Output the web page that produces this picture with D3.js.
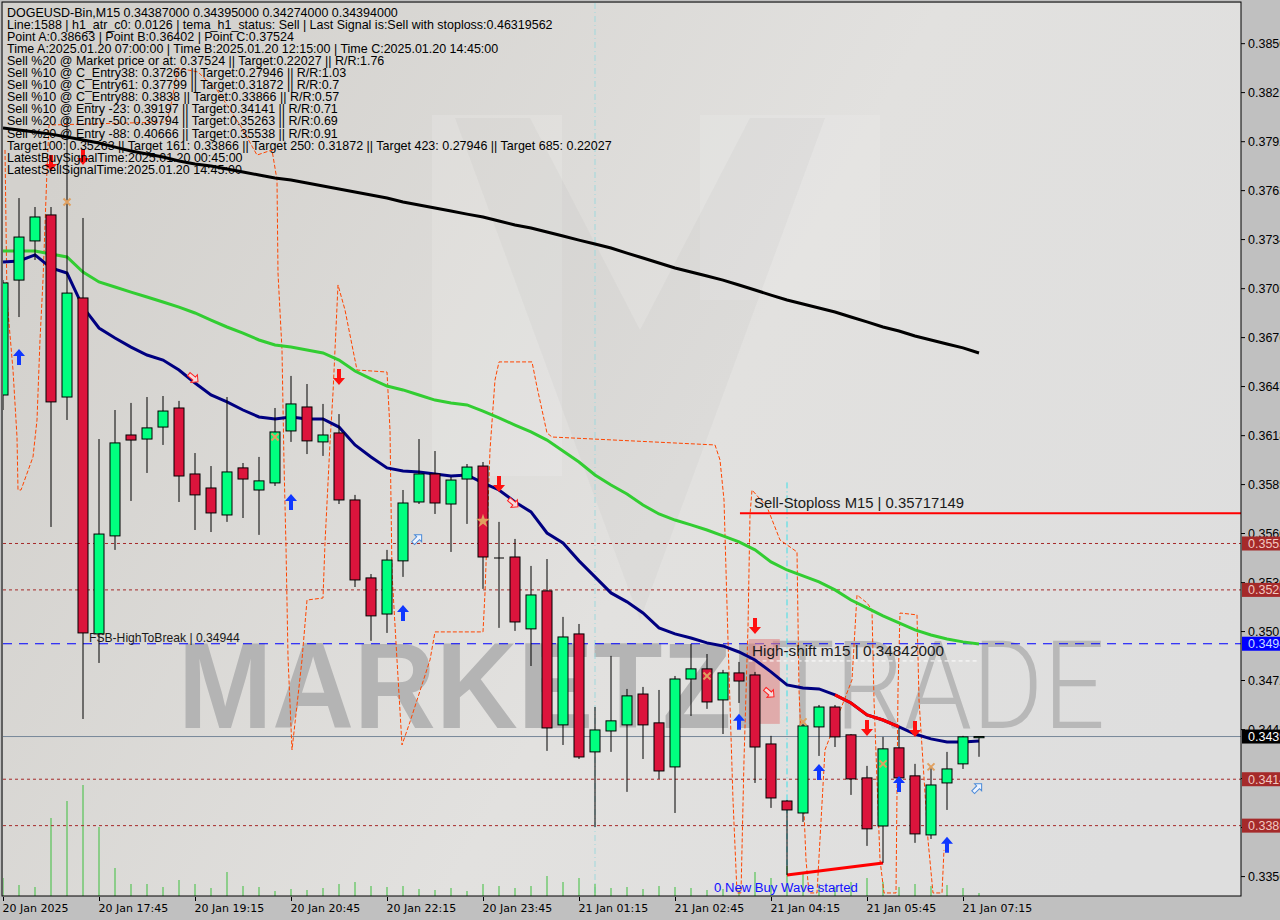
<!DOCTYPE html>
<html><head><meta charset="utf-8">
<script src="https://cdn.jsdelivr.net/npm/d3@7"></script>
<style>body{margin:0;background:#c0c0c0;overflow:hidden}svg{display:block}</style>
</head><body><svg id="c" width="1280" height="920"></svg>
<script>
// ---------- DATA ----------
const opens=[0.36418,0.37099,0.37331,0.37485,0.36406,0.36993,0.35002,0.35583,0.36181,0.36157,
0.36228,0.36341,0.35950,0.35867,0.35707,0.35986,0.35855,0.35897,0.36205,0.36347,
0.36140,0.36193,0.35796,0.35334,0.35120,0.35435,0.35784,0.35950,0.35772,0.35920,
0.35997,0.35452,0.35458,0.35032,0.35257,0.34463,0.35002,0.34303,0.34427,0.34463,
0.34646,0.34475,0.34214,0.34735,0.34795,0.34611,0.34771,0.34759,0.34350,0.34012,
0.33941,0.34451,0.34569,0.34404,0.34149,0.33864,0.34327,0.34161,0.33811,0.34119,
0.34232,0.34387];
const highs=[0.37099,0.37585,0.37532,0.37532,0.38065,0.37467,0.36157,0.36329,0.36371,0.36406,
0.36412,0.36383,0.36074,0.35997,0.36406,0.36015,0.36051,0.36341,0.36531,0.36483,
0.36365,0.36305,0.35826,0.35357,0.35500,0.35855,0.36157,0.36086,0.35932,0.36009,
0.36021,0.35666,0.35565,0.35405,0.35446,0.35103,0.35061,0.34569,0.34872,0.34676,
0.34688,0.34670,0.34753,0.34943,0.34883,0.34789,0.34836,0.34777,0.34398,0.34018,
0.34469,0.34581,0.34581,0.34409,0.34220,0.34392,0.34445,0.34232,0.34214,0.34303,
0.34398,0.34395];
const lows=[0.36329,0.36880,0.37218,0.35636,0.36270,0.34498,0.34830,0.35500,0.35790,0.35956,
0.36122,0.35784,0.35618,0.35606,0.35666,0.35689,0.35589,0.35879,0.36140,0.36068,
0.36057,0.35772,0.35280,0.34961,0.35008,0.35340,0.35772,0.35713,0.35488,0.35654,
0.35269,0.35038,0.35020,0.34812,0.34309,0.34344,0.34261,0.33858,0.34303,0.34066,
0.34261,0.34143,0.33941,0.34516,0.34558,0.34409,0.34593,0.34119,0.33971,0.33574,
0.33888,0.34279,0.34332,0.34048,0.33746,0.33645,0.34125,0.33764,0.33787,0.33959,
0.34202,0.34274];
const closes=[0.37082,0.37354,0.37473,0.36377,0.37022,0.35008,0.35594,0.36134,0.36151,0.36223,
0.36323,0.35938,0.35826,0.35719,0.35962,0.35920,0.35909,0.36199,0.36365,0.36146,
0.36181,0.35796,0.35322,0.35109,0.35440,0.35778,0.35950,0.35778,0.35914,0.35991,
0.35458,0.35452,0.35073,0.35233,0.34445,0.34984,0.34273,0.34433,0.34487,0.34635,
0.34463,0.34190,0.34735,0.34795,0.34599,0.34771,0.34723,0.34332,0.34030,0.33959,
0.34457,0.34569,0.34392,0.34143,0.33847,0.34321,0.34149,0.33817,0.34107,0.34202,
0.34392,0.34394];
const volumes=[180,110,90,780,950,1110,690,280,120,120,90,160,120,80,240,100,90,50,70,60,
80,120,140,100,90,100,70,60,80,50,120,100,80,100,200,140,180,120,80,90,
70,100,90,80,60,70,60,240,180,300,220,120,90,140,180,140,90,120,100,110,80,30];
const maFast=[0.37206,0.37212,0.37248,0.37171,0.37141,0.36939,0.36815,0.36756,0.36702,0.36655,
0.36625,0.36566,0.36489,0.36418,0.36377,0.36329,0.36288,0.36276,0.36288,0.36276,
0.36276,0.36228,0.36122,0.36051,0.35986,0.35968,0.35962,0.35950,0.35938,0.35944,
0.35897,0.35855,0.35784,0.35725,0.35600,0.35541,0.35435,0.35340,0.35245,0.35192,
0.35126,0.35038,0.35002,0.34978,0.34949,0.34931,0.34895,0.34848,0.34777,0.34700,
0.34682,0.34676,0.34641,0.34593,0.34522,0.34492,0.34451,0.34409,0.34380,0.34362,
0.34362,0.34368];
const maMid=[0.37271,0.37271,0.37271,0.37253,0.37236,0.37147,0.37088,0.37058,0.37028,0.36999,
0.36969,0.36939,0.36904,0.36862,0.36821,0.36785,0.36744,0.36714,0.36702,0.36685,
0.36667,0.36625,0.36560,0.36513,0.36471,0.36448,0.36418,0.36388,0.36371,0.36359,
0.36323,0.36282,0.36240,0.36199,0.36151,0.36086,0.36021,0.35944,0.35885,0.35831,
0.35766,0.35713,0.35677,0.35648,0.35618,0.35583,0.35547,0.35500,0.35429,0.35381,
0.35346,0.35310,0.35263,0.35203,0.35156,0.35109,0.35067,0.35026,0.34996,0.34972,
0.34955,0.34943];
const maSlow=[0.38000,0.37988,0.37976,0.37964,0.37947,0.37929,0.37911,0.37887,0.37864,0.37846,
0.37828,0.37805,0.37787,0.37775,0.37757,0.37739,0.37722,0.37704,0.37692,0.37674,
0.37656,0.37639,0.37621,0.37603,0.37585,0.37562,0.37544,0.37526,0.37508,0.37490,
0.37473,0.37449,0.37425,0.37408,0.37384,0.37360,0.37336,0.37313,0.37289,0.37259,
0.37230,0.37200,0.37171,0.37147,0.37123,0.37099,0.37070,0.37040,0.37010,0.36981,
0.36957,0.36934,0.36910,0.36880,0.36851,0.36821,0.36797,0.36768,0.36744,0.36720,
0.36697,0.36667];
// orange envelope zigzag: [bar index, price]
const envelope=[[0.125,0.37870],[0.25,0.36981],[0.625,0.36566],[0.875,0.36169],[0.9375,0.35855],[1.125,0.35855],
[1.875,0.36051],[2.125,0.36270],[2.3125,0.36744],[2.5,0.37099],[2.75,0.37751],[2.875,0.38018],[10.25,0.38036],
[10.5625,0.38166],[10.9375,0.38356],[12.1875,0.38332],[13.375,0.38225],[14.8125,0.38018],[15.875,0.37840],
[16.8125,0.37870],[17.125,0.37692],[17.1875,0.37141],[17.4375,0.36685],[17.5625,0.36015],[17.6875,0.35517],
[17.8125,0.34866],[18.0625,0.34315],[18.375,0.34581],[18.6875,0.34848],[19.0,0.35203],[20.0,0.35215],
[20.125,0.35541],[20.4375,0.36134],[20.625,0.36430],[20.9375,0.37070],[21.375,0.36922],[21.8125,0.36714],
[22.125,0.36566],[24.0,0.36554],[24.1875,0.36211],[24.3125,0.35363],[24.625,0.34848],[24.9375,0.34344],
[25.4375,0.34481],[26.6875,0.34848],[27.0,0.35014],[30.0,0.35014],[30.125,0.35245],[30.4375,0.36092],
[30.75,0.36507],[31.0,0.36614],[33.0625,0.36614],[33.375,0.36466],[34.0,0.36193],[34.3125,0.36169],
[44.5,0.36122],[44.8125,0.36033],[45.0625,0.35796],[45.3125,0.34966],[45.625,0.34018],[45.875,0.33467],
[46.125,0.33467],[46.3125,0.34255],[46.5625,0.35043],[46.6875,0.35707],[46.8125,0.35855],[47.75,0.35755],
[48.5625,0.35559],[49.625,0.35488],[49.75,0.34670],[50.1875,0.33663],[50.375,0.33467],[50.875,0.33467],
[51.375,0.34315],[53.0625,0.34730],[53.375,0.35233],[54.0,0.35186],[54.3125,0.35144],[54.4375,0.34611],
[54.8125,0.33663],[55.0625,0.33467],[55.8125,0.33467],[55.9375,0.34670],[56.0625,0.35126],[57.125,0.35115],
[57.25,0.34611],[57.8125,0.33781],[58.125,0.33467],[58.6875,0.33467],[58.8125,0.33722]];
const buyArrows=[[1,0.36643],[18,0.35784],[25,0.35126],[46,0.34481],[51,0.34184],[56,0.34113],[59,0.33752]];
const sellArrows=[[3,0.37793],[5,0.37828],[21,0.36525],[31,0.35891],[47,0.35049],[54,0.34445],[57,0.34439]];
const sellHollow=[[11.9,0.36519],[31.9,0.35778],[47.9,0.34653]];
const buyHollow=[[25.9,0.35565],[60.9,0.34089]];
const crossMarks=[[4,0.37562],[17,0.36169],[44,0.34753],[50,0.34481],[55,0.34232],[58,0.34214]];
const starMarks=[[30,0.35671]];
const timeTickIdx=[0,6,12,18,24,30,36,42,48,54,60];
const timeLabels=["20 Jan 2025","20 Jan 17:45","20 Jan 19:15","20 Jan 20:45","20 Jan 22:15","20 Jan 23:45",
"21 Jan 01:15","21 Jan 02:45","21 Jan 04:15","21 Jan 05:45","21 Jan 07:15"];
const priceTicks=[0.38503,0.38213,0.37922,0.37632,0.37342,0.37051,0.36761,0.36471,0.36180,0.35890,
0.35600,0.35309,0.35019,0.34729,0.34438,0.34148,0.33858,0.33567];
const targetLevels=[0.35538,0.35263,0.34141,0.33866];
const fsbHigh=0.34944, stopLoss=0.35717149, highShift=0.34842, lastPrice=0.34394;
const infoLines=["DOGEUSD-Bin,M15  0.34387000 0.34395000 0.34274000 0.34394000",
"Line:1588 | h1_atr_c0: 0.0126 | tema_h1_status: Sell | Last Signal is:Sell with stoploss:0.46319562",
"Point A:0.38663 | Point B:0.36402 | Point C:0.37524",
"Time A:2025.01.20 07:00:00 | Time B:2025.01.20 12:15:00 | Time C:2025.01.20 14:45:00",
"Sell %20 @ Market price or at: 0.37524 || Target:0.22027 || R/R:1.76",
"Sell %10 @ C_Entry38: 0.37266 || Target:0.27946 || R/R:1.03",
"Sell %10 @ C_Entry61: 0.37799 || Target:0.31872 || R/R:0.7",
"Sell %10 @ C_Entry88: 0.3838 || Target:0.33866 || R/R:0.57",
"Sell %10 @ Entry -23: 0.39197 || Target:0.34141 || R/R:0.71",
"Sell %20 @ Entry -50: 0.39794 || Target:0.35263 || R/R:0.69",
"Sell %20 @ Entry -88: 0.40666 || Target:0.35538 || R/R:0.91",
"Target100: 0.35263 || Target 161: 0.33866 || Target 250: 0.31872 || Target 423: 0.27946 || Target 685: 0.22027",
"LatestBuySignalTime:2025.01.20 00:45:00",
"LatestSellSignalTime:2025.01.20 14:45:00"];

// ---------- LAYOUT ----------
const L=3,R=1241,T=3,B=896;
const svg=d3.select("#c");
const x=d3.scaleLinear().domain([0,61]).range([3,979]);
const y=d3.scaleLinear().domain([0.33449,0.38741]).range([B,T]);
const vol=d3.scaleLinear().domain([0,1000]).range([B,B-100]);

const defs=svg.append("defs");
const g1=defs.append("linearGradient").attr("id","bg").attr("x1","0").attr("y1","0.3").attr("x2","1").attr("y2","0.7");
g1.append("stop").attr("offset","0").attr("stop-color","#d3d1cd");
g1.append("stop").attr("offset","0.55").attr("stop-color","#e2e1df");
g1.append("stop").attr("offset","1").attr("stop-color","#dedede");
defs.append("clipPath").attr("id","clip").append("rect").attr("x",L).attr("y",T).attr("width",R-L).attr("height",B-T);

svg.append("rect").attr("width",1280).attr("height",920).attr("fill","#c0c0c0");
svg.append("rect").attr("x",L).attr("y",T).attr("width",R-L).attr("height",B-T).attr("fill","url(#bg)");

const plot=svg.append("g").attr("clip-path","url(#clip)");

// watermark
const wm=plot.append("g");
wm.append("polygon").attr("points","432,115 562,115 562,476 432,476").attr("fill","#ffffff").attr("opacity",0.14);
wm.append("polygon").attr("points","700,115 880,115 880,300 700,300").attr("fill","#ffffff").attr("opacity",0.12);
wm.append("polygon").attr("points","455,118 530,118 640,330 750,118 825,118 640,620").attr("fill","#9a9a9a").attr("opacity",0.08);
wm.append("text").attr("x",178).attr("y",728).attr("font-family","Liberation Sans, Arial").attr("font-weight","bold")
  .attr("font-size",122).attr("fill","#b4b4b4").attr("textLength",585).attr("lengthAdjust","spacingAndGlyphs").text("MARKETZI");
wm.append("text").attr("x",770).attr("y",728).attr("font-family","Roboto, Liberation Sans").attr("font-weight","300")
  .attr("font-size",122).attr("fill","#b8b8b8").attr("textLength",335).attr("lengthAdjust","spacingAndGlyphs").text("TRADE");

// vertical separators
plot.append("line").attr("x1",x(37)).attr("x2",x(37)).attr("y1",T).attr("y2",B)
  .attr("stroke","#9fd8dc").attr("stroke-width",1).attr("stroke-dasharray","6,3,1,3");
plot.append("line").attr("x1",x(49)).attr("x2",x(49)).attr("y1",y(0.35900)).attr("y2",y(0.33574))
  .attr("stroke","#3fe0e8").attr("stroke-width",1).attr("stroke-dasharray","6,3,1,3");

// volume
plot.selectAll(".vol").data(volumes).enter().append("line")
  .attr("x1",(d,i)=>x(i)).attr("x2",(d,i)=>x(i)).attr("y1",B).attr("y2",d=>vol(d))
  .attr("stroke","#3cbf3c").attr("stroke-width",1);

// levels
targetLevels.forEach(p=>plot.append("line").attr("x1",L).attr("x2",R).attr("y1",y(p)).attr("y2",y(p))
  .attr("stroke","#a52a2a").attr("stroke-dasharray","3,3"));
plot.append("line").attr("x1",L).attr("x2",R).attr("y1",y(lastPrice)).attr("y2",y(lastPrice)).attr("stroke","#778899");
plot.append("line").attr("x1",L).attr("x2",R).attr("y1",y(fsbHigh)).attr("y2",y(fsbHigh))
  .attr("stroke","#0000ff").attr("stroke-dasharray","9,7").attr("stroke-width",1.2);
plot.append("line").attr("x1",x(46.06)).attr("x2",R).attr("y1",y(stopLoss)).attr("y2",y(stopLoss))
  .attr("stroke","#ff0000").attr("stroke-width",2);

// pink zone
plot.append("rect").attr("x",x(46.6)).attr("width",x(48.55)-x(46.6)).attr("y",y(0.34972)).attr("height",y(0.34469)-y(0.34972))
  .attr("fill","#e08080").attr("opacity",0.55);
plot.append("line").attr("x1",x(46.6)).attr("x2",x(60.9)).attr("y1",y(highShift)).attr("y2",y(highShift))
  .attr("stroke","#ffffff").attr("stroke-dasharray","4,3");

// envelope
plot.append("path").datum(envelope).attr("d",d3.line().x(d=>x(d[0])).y(d=>y(d[1])))
  .attr("fill","none").attr("stroke","#ff4500").attr("stroke-width",1).attr("stroke-dasharray","4,2");

// MAs
const ln=d3.line().x((d,i)=>x(i)).y(d=>y(d));
plot.append("path").datum(maSlow).attr("d",ln).attr("fill","none").attr("stroke","#000").attr("stroke-width",3);
plot.append("path").datum(maMid).attr("d",ln).attr("fill","none").attr("stroke","#32cd32").attr("stroke-width",3);
plot.append("path").datum(maFast).attr("d",ln).attr("fill","none").attr("stroke","#000080").attr("stroke-width",3);
const seg=maFast.map((d,i)=>[i,d]).filter(d=>d[0]>=52&&d[0]<=56);
plot.append("path").datum(seg).attr("d",d3.line().x(d=>x(d[0])).y(d=>y(d[1]))).attr("fill","none").attr("stroke","#ff0000").attr("stroke-width",3);
plot.append("line").attr("x1",x(49)).attr("y1",y(lows[49])).attr("x2",x(55)).attr("y2",y(lows[55]))
  .attr("stroke","#ff0000").attr("stroke-width",3);

// candles
const cg=plot.append("g");
opens.forEach((o,i)=>{
  const c=closes[i],cx=x(i);
  cg.append("line").attr("x1",cx).attr("x2",cx).attr("y1",y(highs[i])).attr("y2",y(lows[i])).attr("stroke","#000");
  if(o===c){cg.append("line").attr("x1",cx-5).attr("x2",cx+5).attr("y1",y(o)).attr("y2",y(o)).attr("stroke","#000");return;}
  const t=y(Math.max(o,c)),b=y(Math.min(o,c));
  cg.append("rect").attr("x",cx-5).attr("y",t).attr("width",10).attr("height",Math.max(1,b-t))
    .attr("fill",c>o?"#00ff7f":"#dc143c").attr("stroke","#000").attr("stroke-width",1);
});

// markers
const mk=plot.append("g");
const upPath="M0,-8 L6,-1 L2,-1 L2,8 L-2,8 L-2,-1 L-6,-1 Z";
buyArrows.forEach(d=>mk.append("path").attr("d",upPath).attr("transform",`translate(${x(d[0])},${y(d[1])})`).attr("fill","#1038ff"));
sellArrows.forEach(d=>mk.append("path").attr("d",upPath).attr("transform",`translate(${x(d[0])},${y(d[1])}) rotate(180)`).attr("fill","#ff1010"));
const hol="M-6,-2 L1,-2 L1,-5 L6,0 L1,5 L1,2 L-6,2 Z";
sellHollow.forEach(d=>mk.append("path").attr("d",hol).attr("transform",`translate(${x(d[0])},${y(d[1])}) rotate(40)`).attr("fill","#f4dcdc").attr("stroke","#ff2020"));
buyHollow.forEach(d=>mk.append("path").attr("d",hol).attr("transform",`translate(${x(d[0])},${y(d[1])}) rotate(-45)`).attr("fill","#eef4ff").attr("stroke","#4a8ad8"));
crossMarks.forEach(d=>mk.append("path").attr("d","M-3.5,-3.5 L3.5,3.5 M3.5,-3.5 L-3.5,3.5").attr("transform",`translate(${x(d[0])},${y(d[1])})`).attr("stroke","#e0a060").attr("stroke-width",2));
starMarks.forEach(d=>mk.append("path").attr("d",d3.symbol(d3.symbolStar,60)()).attr("transform",`translate(${x(d[0])},${y(d[1])})`).attr("fill","#e0a060"));

// plot texts
function fit(sel,w){const n=sel.node();const l=n.getComputedTextLength();const fs=parseFloat(sel.attr("font-size"));sel.attr("font-size",fs*w/l);}
const ff="Liberation Sans, Arial, sans-serif";
fit(plot.append("text").attr("x",754).attr("y",508).attr("font-family",ff).attr("font-size",16).attr("fill","#1a1a1a").text("Sell-Stoploss M15 | "+stopLoss.toFixed(8)),210);
fit(plot.append("text").attr("x",752).attr("y",656).attr("font-family",ff).attr("font-size",16).attr("fill","#1a1a1a").text("High-shift m15 | "+highShift.toFixed(8)),192);
fit(plot.append("text").attr("x",89).attr("y",642).attr("font-family",ff).attr("font-size",13).attr("fill","#1a1a1a").text("FSB-HighToBreak | "+fsbHigh.toFixed(5)),151);
fit(plot.append("text").attr("x",714).attr("y",892).attr("font-family",ff).attr("font-size",12).attr("fill","#1010ff").text("0 New Buy Wave started"),144);

// info text
const info=plot.append("g").attr("font-family",ff).attr("fill","#000");
const tl=info.selectAll("text").data(infoLines).enter().append("text").attr("x",7).attr("y",(d,i)=>16.5+i*12.1).attr("font-size",12).text(d=>d);
const l2=tl.nodes()[1].getComputedTextLength();const fsz=12*546/l2;tl.attr("font-size",fsz);

// frame
svg.append("rect").attr("x",L-1).attr("y",T-1).attr("width",R-L+1).attr("height",B-T+1).attr("fill","none").attr("stroke","#000");

// axes
const ya=svg.append("g").attr("transform",`translate(${R},0)`).call(d3.axisRight(y).tickValues(priceTicks).tickSize(4).tickPadding(3).tickFormat(d3.format(".5f")));
ya.select(".domain").remove();
ya.selectAll("text").style("font-family","'Liberation Sans', Arial, sans-serif").style("font-size","12.5px").attr("fill","#000");
const xa=svg.append("g").attr("transform",`translate(0,${B+1})`).call(d3.axisBottom(x).tickValues(timeTickIdx).tickSize(4).tickFormat((d,i)=>timeLabels[i]));
xa.select(".domain").remove();
xa.selectAll("text").attr("text-anchor","start").attr("dx",-1).style("font-family","'DejaVu Sans', Verdana, sans-serif").style("font-size","11px").attr("fill","#000");

// price boxes
function box(p,fill,tc){const g=svg.append("g");g.append("rect").attr("x",R+1).attr("y",y(p)-7).attr("width",40).attr("height",14).attr("fill",fill);
 g.append("text").attr("x",R+7).attr("y",y(p)+4.5).style("font-family","'Liberation Sans', Arial, sans-serif").style("font-size","12.5px").attr("fill",tc).text(p.toFixed(5));}
targetLevels.forEach(p=>box(p,"#a52a2a","#f2c8c0"));
box(fsbHigh,"#0000ff","#c8dcff");
box(lastPrice,"#000000","#ffffff");
</script></body></html>
